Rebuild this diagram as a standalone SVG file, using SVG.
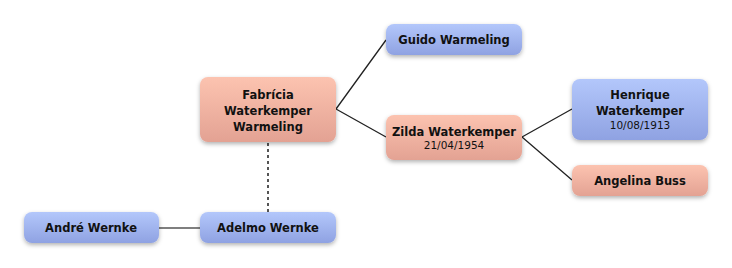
<svg xmlns="http://www.w3.org/2000/svg" width="732" height="268" viewBox="0 0 732 268">
<defs>
<linearGradient id="pink" x1="0" y1="0" x2="0" y2="1"><stop offset="0" stop-color="#fcc3b0"/><stop offset="1" stop-color="#e3a293"/></linearGradient>
<linearGradient id="blue" x1="0" y1="0" x2="0" y2="1"><stop offset="0" stop-color="#b3c7fb"/><stop offset="1" stop-color="#8fa2e2"/></linearGradient>
<filter id="sh" x="-10%" y="-20%" width="120%" height="150%"><feDropShadow dx="0" dy="2" stdDeviation="2" flood-color="#000" flood-opacity="0.3"/></filter>
</defs>
<style>
.p{fill:url(#pink);filter:url(#sh)}
.b{fill:url(#blue);filter:url(#sh)}
text{font-family:"DejaVu Sans",sans-serif;text-anchor:middle;fill:#111}
.n{font-size:11.5px;font-weight:bold}
.d{font-size:10.5px}
.c{stroke:#222;stroke-width:1.3;fill:none}
</style>
<rect width="732" height="268" fill="#fff"/>
<g id="connectors">
<path class="c" d="M336,109 L386,40 M336,109 L386,137 M522,137 L572,109 M522,137 L572,180"/>
<path d="M268,143 L268,212" stroke="#555" stroke-width="2" stroke-dasharray="3,3" fill="none"/>
<path d="M159,228 L200,228" stroke="#555" stroke-width="1.5" fill="none"/>
</g>
<g id="fabricia"><rect class="p" x="200" y="77" width="136" height="65" rx="8"/>
<text class="n" x="268" y="99">Fabrícia</text><text class="n" x="268" y="115">Waterkemper</text><text class="n" x="268" y="131">Warmeling</text></g>
<g id="guido"><rect class="b" x="386" y="24" width="136" height="31" rx="8"/>
<text class="n" x="454" y="44">Guido Warmeling</text></g>
<g id="zilda"><rect class="p" x="386" y="115" width="136" height="45" rx="8"/>
<text class="n" x="454" y="136">Zilda Waterkemper</text><text class="d" x="454" y="149">21/04/1954</text></g>
<g id="henrique"><rect class="b" x="572" y="79" width="136" height="61" rx="8"/>
<text class="n" x="640" y="99">Henrique</text><text class="n" x="640" y="115">Waterkemper</text><text class="d" x="640" y="129">10/08/1913</text></g>
<g id="angelina"><rect class="p" x="572" y="165" width="136" height="31" rx="8"/>
<text class="n" x="640" y="185">Angelina Buss</text></g>
<g id="andre"><rect class="b" x="24" y="212" width="135" height="31" rx="8"/>
<text class="n" x="91" y="232">André Wernke</text></g>
<g id="adelmo"><rect class="b" x="200" y="212" width="136" height="31" rx="8"/>
<text class="n" x="268" y="232">Adelmo Wernke</text></g>
</svg>
